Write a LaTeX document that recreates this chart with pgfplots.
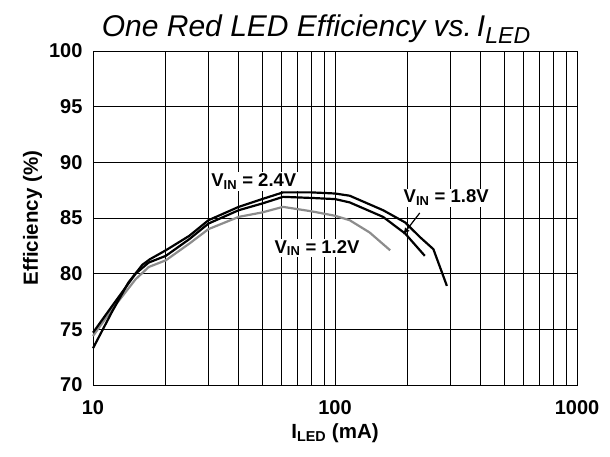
\documentclass[border=0pt]{standalone}
\usepackage{pgfplots}
\pgfplotsset{compat=1.18}
\usepackage{fontspec}
\setmainfont{Liberation Sans}
\usetikzlibrary{calc,arrows.meta}
\begin{document}
\begin{tikzpicture}
\begin{axis}[name=ax,
 xmode=log, xmin=10, xmax=1000, ymin=70, ymax=100,
 width=484pt, height=334pt, scale only axis,
 xtick={10,100,1000}, xticklabels={10,100,1000},
 ytick={70,75,...,100},
 grid=both,
 major grid style={black, line width=0.8pt},
 minor grid style={black, line width=0.8pt},
 axis line style={black, line width=0.8pt},
 major tick length=0pt, minor tick length=0pt,
 /pgf/number format/assume math mode=true,
 ticklabel style={font=\bfseries\fontsize{20}{20}\selectfont},
 yticklabel style={xshift=-7pt},
 xticklabel style={yshift=-12pt},
 xlabel={I\textsubscript{LED} (mA)},
 ylabel={Efficiency (\%)},
 label style={font=\bfseries\fontsize{20.5}{20.5}\selectfont},
 xlabel style={yshift=-2pt},
 ylabel style={yshift=0pt},
 clip=false,
]
% V_IN = 1.2 V
\addplot[color=black!45, line width=2.2pt, line join=round] coordinates {
(10,74.4) (12,76.8) (15,79.5) (17,80.6) (20,81.2) (25,82.7) (30,84.0) (40,85.1) (50,85.5) (61,86.0) (80,85.6) (100,85.2) (115,84.8) (139,83.7) (169,82.1)};
% V_IN = 1.8 V
\addplot[color=black, line width=2.2pt, line join=round] coordinates {
(10,74.7) (12,77.1) (15,80.0) (17,81.0) (20,81.6) (25,83.1) (30,84.5) (40,85.7) (50,86.3) (61,86.9) (80,86.8) (100,86.7) (115,86.4) (158,85.1) (195,83.6) (235,81.6)};
% V_IN = 2.4 V
\addplot[color=black, line width=2.2pt, line join=round] coordinates {
(10,73.3) (12,76.6) (14,79.2) (16,80.8) (17.2,81.3) (20,82.1) (25,83.4) (30,84.8) (40,86.0) (50,86.7) (61,87.3) (80,87.3) (100,87.2) (115,87.0) (158,85.7) (195,84.6) (224,83.3) (255,82.2) (290,78.9)};
\node[fill=white, inner sep=1.5pt, font=\bfseries\fontsize{18.5}{18.5}\selectfont] at (axis cs:46.2,88.3) {V\textsubscript{IN} = 2.4V};
\node[fill=white, inner sep=1.5pt, font=\bfseries\fontsize{18.5}{18.5}\selectfont] at (axis cs:84.3,82.3) {V\textsubscript{IN} = 1.2V};
\node[fill=white, inner sep=1.5pt, font=\bfseries\fontsize{18.5}{18.5}\selectfont] at (axis cs:288,86.8) {V\textsubscript{IN} = 1.8V};
\draw[-{Latex[length=7pt,width=6pt]}, line width=1.2pt] (axis cs:224,85.45) -- (axis cs:191,83.5);
\end{axis}
\node[anchor=base, font=\itshape\fontsize{30}{30}\selectfont] at ($(ax.north)+(-19pt,14pt)$) {One Red LED Efficiency vs.\,I\raisebox{-7pt}{\fontsize{23}{23}\selectfont LED}};
\pgfresetboundingbox
\path (ax.south west) ++(-93pt,-72pt) rectangle ++(610pt,457pt);
\end{tikzpicture}
\end{document}
